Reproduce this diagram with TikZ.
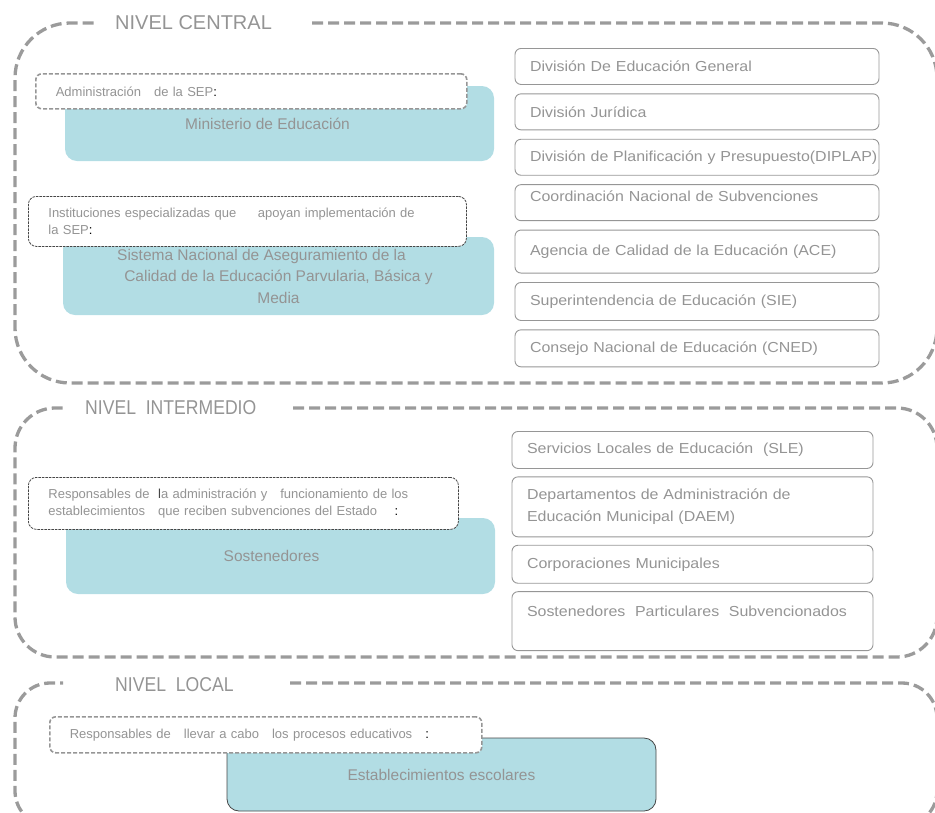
\documentclass[tikz,border=0pt]{standalone}
\usepackage{fontspec}
\setmainfont{Liberation Sans}
\newfontfamily\ancha[FakeStretch=1.1]{Liberation Sans}
\newfontfamily\angosta[FakeStretch=0.88]{Liberation Sans}
\usetikzlibrary{positioning}
\definecolor{borde}{RGB}{155,155,155}
\definecolor{gristexto}{RGB}{148,148,148}
\definecolor{grismarco}{RGB}{150,150,150}
\definecolor{celeste}{RGB}{178,221,228}
\definecolor{oscuro}{RGB}{70,70,70}
\tikzstyle{nivel}=[draw=borde,line width=3.3pt,dash pattern=on 11pt off 5pt]
\tikzstyle{titulo}=[text=gristexto,font=\fontsize{20}{23}\selectfont,anchor=west,inner sep=0pt]
\tikzstyle{caja}=[draw=grismarco,line width=0.9pt,rounded corners=6pt,text=gristexto,font=\ancha\fontsize{14.5}{22}\selectfont,align=left,inner xsep=15pt,inner ysep=0pt]
\tikzstyle{azul}=[fill=celeste,rounded corners=12pt,text=gristexto,font=\fontsize{15.5}{21.5}\selectfont,align=center,inner sep=0pt]
\tikzstyle{etiqueta}=[draw=grismarco,fill=white,line width=1.6pt,dash pattern=on 4pt off 2pt,rounded corners=6pt,text=gristexto,font=\fontsize{13}{17}\selectfont,align=left,anchor=north west,inner xsep=20pt,inner ysep=0pt]
\tikzstyle{etiquetaosc}=[etiqueta,draw=oscuro,line width=0.8pt,dash pattern=on 2.5pt off 1pt,rounded corners=8pt]

\begin{document}
\begin{tikzpicture}[x=1pt,y=-1pt]
  \useasboundingbox (0,0) rectangle (935,812);
  \clip (0,0) rectangle (935,812);

  % niveles
  \draw[nivel,rounded corners=55pt] (312,23) -- (937,23) -- (937,383) -- (15,383) -- (15,23) -- (95,23);
  \draw[nivel,rounded corners=40pt] (293,408) -- (937,408) -- (937,657) -- (15,657) -- (15,408) -- (65,408);
  \draw[nivel,rounded corners=35pt] (290,683) -- (937,683) -- (937,826) -- (15,826) -- (15,683) -- (63,683);
  \node[titulo] (central) at (115,23) {NIVEL CENTRAL};
  \node[titulo,font=\angosta\fontsize{20}{23}\selectfont] (intermedio) at (85,408) {NIVEL\ \ INTERMEDIO};
  \node[titulo,font=\angosta\fontsize{20}{23}\selectfont] (local) at (115,685) {NIVEL\ \ LOCAL};

  % nivel central
  \node[azul,minimum width=429pt,minimum height=75pt] (mineduc) at (279.5,123.5) {Ministerio de Educación\hspace*{24pt}};
  \node[azul,minimum width=431pt,minimum height=78pt] (sac) at (278.5,276) {Sistema Nacional de Aseguramiento de la\hspace*{34pt}\\Calidad de la Educación Parvularia, Básica y\hspace*{34pt}\\Media};
  \node[etiqueta,text width=391pt,minimum height=35pt] (adm) at (35,73) {Administración\ \ \ de la SEP{\color{black}:}};
  \node[etiquetaosc,text width=398pt,minimum height=50pt] (inst) at (28,196) {Instituciones especializadas que\ \ \ \ \ apoyan implementación de\\la SEP{\color{black}:}};

  \node[caja,text width=334pt,minimum height=36pt,anchor=north] (divgen) at (697,48) {División De Educación General};
  \node[caja,text width=334pt,minimum height=36pt,below=8.5pt of divgen] (juridica) {División Jurídica};
  \node[caja,text width=334pt,minimum height=36pt,below=8.5pt of juridica] (diplap) {\mbox{División de Planificación y Presupuesto(DIPLAP)}};
  \node[caja,text width=334pt,minimum height=36pt,text depth=12pt,below=8.5pt of diplap] (subvenciones) {Coordinación Nacional de Subvenciones};
  \node[caja,text width=334pt,minimum height=43pt,below=8.5pt of subvenciones] (ace) {Agencia de Calidad de la Educación (ACE)};
  \node[caja,text width=334pt,minimum height=38pt,below=8.5pt of ace] (sie) {Superintendencia de Educación (SIE)};
  \node[caja,text width=334pt,minimum height=37pt,below=8.5pt of sie] (cned) {Consejo Nacional de Educación (CNED)};

  % nivel intermedio
  \node[azul,minimum width=429pt,minimum height=76pt] (sostenedores) at (280.5,556) {Sostenedores\hspace*{18pt}};
  \node[etiquetaosc,text width=390pt,minimum height=52pt] (resp) at (28,477) {Responsables de\ \ {\color{oscuro}l}a administración y\ \ \ funcionamiento de los\\establecimientos\ \ \ que reciben subvenciones del Estado\ \ \ \ {\color{black}:}};

  \node[caja,text width=331pt,minimum height=37pt,anchor=north] (sle) at (692.5,431) {Servicios Locales de Educación\ \ (SLE)};
  \node[caja,text width=331pt,minimum height=60pt,below=7.5pt of sle] (daem) {Departamentos de Administración de\\Educación Municipal (DAEM)};
  \node[caja,text width=331pt,minimum height=38pt,below=7.5pt of daem] (corporaciones) {Corporaciones Municipales};
  \node[caja,text width=331pt,minimum height=59pt,text depth=20pt,below=7.5pt of corporaciones] (particulares) {Sostenedores\ \ Particulares\ \ Subvencionados};

  % nivel local
  \node[azul,draw=oscuro,line width=0.8pt,minimum width=429pt,minimum height=73pt] (escuelas) at (441.5,774.5) {Establecimientos escolares};
  \node[etiqueta,text width=392pt,minimum height=36pt] (procesos) at (49,716) {Responsables de\ \ \ llevar a cabo\ \ \ los procesos educativos\ \ \ {\color{black}:}};
\end{tikzpicture}
\end{document}
